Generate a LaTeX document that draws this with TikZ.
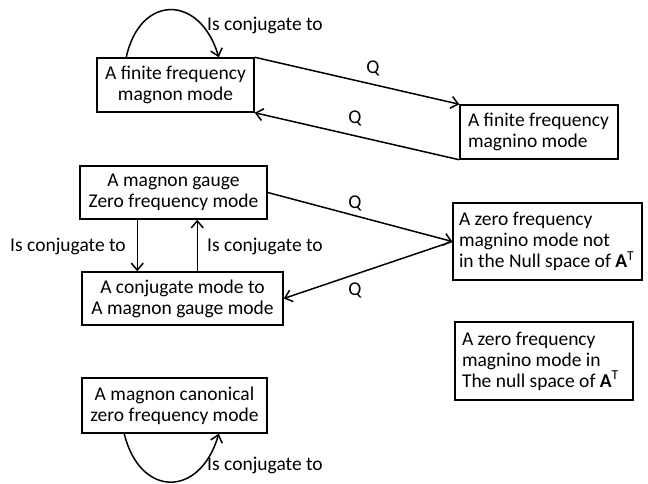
\documentclass[tikz,border=0pt]{standalone}
\usepackage{fontspec}
\setmainfont{Carlito}
\usetikzlibrary{arrows.meta}
\begin{document}
\begin{tikzpicture}[x=1pt,y=-1pt,
  box/.style={draw, line width=1.5pt, inner xsep=8pt, inner ysep=2pt, font=\fontsize{19.5}{21}\selectfont},
  cbox/.style={box, align=center},
  lbox/.style={box, align=flush left},
  lbl/.style={font=\fontsize{19.5}{21}\selectfont, inner sep=0pt},
  arr/.style={line width=1.5pt, -{Straight Barb[length=7pt,width=12pt,line width=1.5pt]}}]
\useasboundingbox[fill=white] (0,0) rectangle (648,483);
\node[cbox, minimum width=157pt, minimum height=54pt] (b1) at (175.5,85) {A finite frequency\\magnon mode};
\node[lbox, minimum width=158pt, minimum height=54pt, text width=142pt] (b2) at (539,132) {A finite frequency\\magnino mode};
\node[cbox, minimum width=187pt, minimum height=53pt] (b3) at (173.5,192.5) {A magnon gauge\\Zero frequency mode};
\node[cbox, minimum width=201pt, minimum height=53pt] (b4) at (182.5,298.5) {A conjugate mode to\\A magnon gauge mode};
\node[lbox, minimum width=189pt, minimum height=77pt, text width=177pt, inner xsep=6pt] (b5) at (547.5,241.5) {A zero frequency\\magnino mode not\\in the Null space of \textbf{A}\textsuperscript{T}};
\node[lbox, minimum width=178pt, minimum height=78pt, text width=164pt, inner xsep=7pt] (b6) at (544,361) {A zero frequency\\magnino mode in\\The null space of \textbf{A}\textsuperscript{T}};
\node[cbox, minimum width=185pt, minimum height=55pt] (b7) at (174.5,405.5) {A magnon canonical\\zero frequency mode};

\draw[arr] ([xshift=30pt]b1.north west) .. controls (140,-6) and (200,-6) .. ([xshift=-36pt]b1.north east);
\node[lbl] (l1) at (265,25) {Is conjugate to};
\draw[arr] (b1.north east) -- (b2.north west);
\node[lbl] (q1) at (373,68) {Q};
\draw[arr] (b2.south west) -- (b1.south east);
\node[lbl] (q2) at (355,118) {Q};

\draw[arr] (b3.east) -- (b5.west);
\node[lbl] (q3) at (355,203) {Q};
\draw[arr] (b5.west) -- (b4.east);
\node[lbl] (q4) at (355,290) {Q};
\draw[arr] ([xshift=58pt]b3.south west) -- ([xshift=58pt]b3.south west |- b4.north);
\draw[arr] ([xshift=116pt]b4.north west) -- ([xshift=116pt]b4.north west |- b3.south);
\node[lbl] (l2) at (68,246) {Is conjugate to};
\node[lbl] (l3) at (265,246) {Is conjugate to};

\draw[arr] ([xshift=43pt]b7.south west) .. controls (140,498) and (200,498) .. ([xshift=-49pt]b7.south east);
\node[lbl] (l4) at (265,465) {Is conjugate to};
\end{tikzpicture}
\end{document}
